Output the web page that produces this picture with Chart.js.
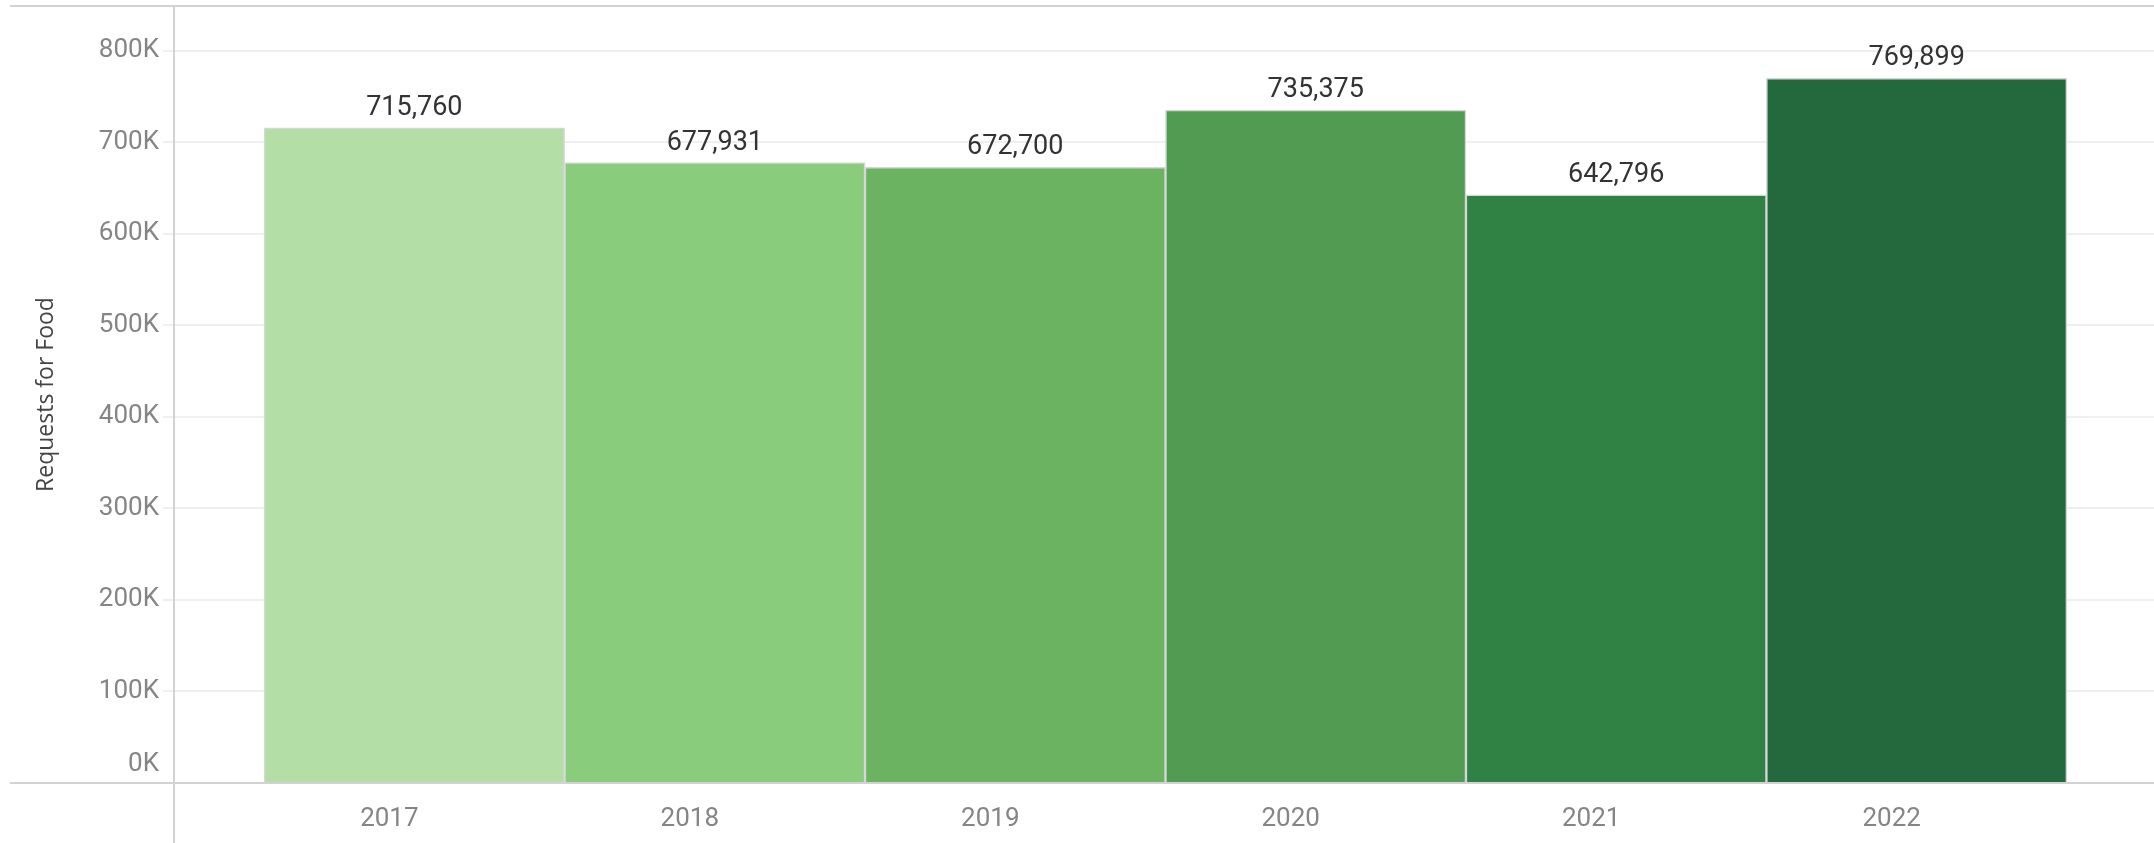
<!DOCTYPE html>
<html>
<head>
<meta charset="utf-8">
<title>Requests for Food</title>
<script src="https://cdn.jsdelivr.net/npm/chart.js@4"></script>
<style>
  html, body { margin: 0; padding: 0; background: #fff; }
  #requestsBar { display: block; }
</style>
</head>
<body>
<canvas id="requestsBar" width="2154" height="843"></canvas>
<script>
const years = [2017, 2018, 2019, 2020, 2021, 2022];
const requests = [715760, 677931, 672700, 735375, 642796, 769899];
const barColors = ["#b3dfa6", "#89cc7c", "#6bb261", "#519b52", "#2f8244", "#24693d"];
const yTickValues = [0, 100000, 200000, 300000, 400000, 500000, 600000, 700000, 800000];

// light frame: top rule, baseline and the y axis line running to the bottom edge
const frameLines = {
  id: "frameLines",
  afterDraw(chart) {
    const { ctx, chartArea, width, height } = chart;
    ctx.save();
    ctx.strokeStyle = "#d2d2d2";
    ctx.lineWidth = 2;
    ctx.beginPath();
    ctx.moveTo(10, chartArea.top);
    ctx.lineTo(width, chartArea.top);
    ctx.moveTo(10, chartArea.bottom);
    ctx.lineTo(width, chartArea.bottom);
    ctx.moveTo(chartArea.left, chartArea.top);
    ctx.lineTo(chartArea.left, height);
    ctx.stroke();
    ctx.restore();
  },
};

// value labels above each bar
const barValues = {
  id: "barValues",
  afterDatasetsDraw(chart) {
    const { ctx } = chart;
    const meta = chart.getDatasetMeta(0);
    ctx.save();
    ctx.font = "27px Roboto";
    ctx.fillStyle = "#333333";
    ctx.textAlign = "center";
    ctx.textBaseline = "alphabetic";
    meta.data.forEach((bar, i) => {
      ctx.fillText(requests[i].toLocaleString("en-US"), bar.x, bar.y - 13);
    });
    ctx.restore();
  },
};

const ctx = document.getElementById("requestsBar").getContext("2d");

const requestsChart = new Chart(ctx, {
  type: "bar",
  data: {
    datasets: [
      {
        label: "Requests for Food",
        data: years.map((year, i) => ({ x: year, y: requests[i] })),
        backgroundColor: barColors,
        borderColor: "#d6d6d6",
        borderWidth: 1.5,
        categoryPercentage: 1,
        barPercentage: 1,
      },
    ],
  },
  options: {
    responsive: false,
    animation: false,
    devicePixelRatio: 1,
    layout: {
      padding: { top: 6, right: 0, bottom: 0, left: 0 },
    },
    scales: {
      x: {
        type: "linear",
        offset: false,
        min: 2016.2,
        max: 2022.79,
        afterFit: (scale) => {
          scale.height = 60;
          scale.paddingLeft = 0;
          scale.paddingRight = 0;
        },
        afterBuildTicks: (scale) => {
          scale.ticks = years.map((year) => ({ value: year }));
        },
        grid: {
          display: false,
          drawTicks: false,
        },
        border: {
          display: false,
        },
        ticks: {
          includeBounds: false,
          labelOffset: -25,
          padding: 21,
          color: "#858585",
          font: { family: "Roboto", size: 26 },
          callback: (value) => String(value),
        },
      },
      y: {
        min: 0,
        max: 849000,
        afterFit: (scale) => {
          scale.width = 174;
          scale.paddingTop = 0;
          scale.paddingBottom = 0;
        },
        afterBuildTicks: (scale) => {
          scale.ticks = yTickValues.map((v) => ({ value: v }));
        },
        grid: {
          color: "#efefef",
          lineWidth: 2,
          tickLength: 11,
          tickColor: "#efefef",
        },
        border: {
          display: false,
        },
        ticks: {
          includeBounds: false,
          padding: 4,
          color: "#858585",
          font: { family: "Roboto", size: 26, lineHeight: 1.45 },
          // the zero label sits above the baseline, so give it an empty second line
          callback: (value) => (value === 0 ? ["0K", ""] : value / 1000 + "K"),
        },
        title: {
          display: true,
          text: "Requests for Food",
          color: "#444444",
          font: { family: "Open Sans", size: 23 },
          padding: { top: 33, bottom: 0 },
        },
      },
    },
    plugins: {
      legend: {
        display: false,
      },
      tooltip: {
        enabled: false,
      },
    },
  },
  plugins: [frameLines, barValues],
});
</script>
</body>
</html>
